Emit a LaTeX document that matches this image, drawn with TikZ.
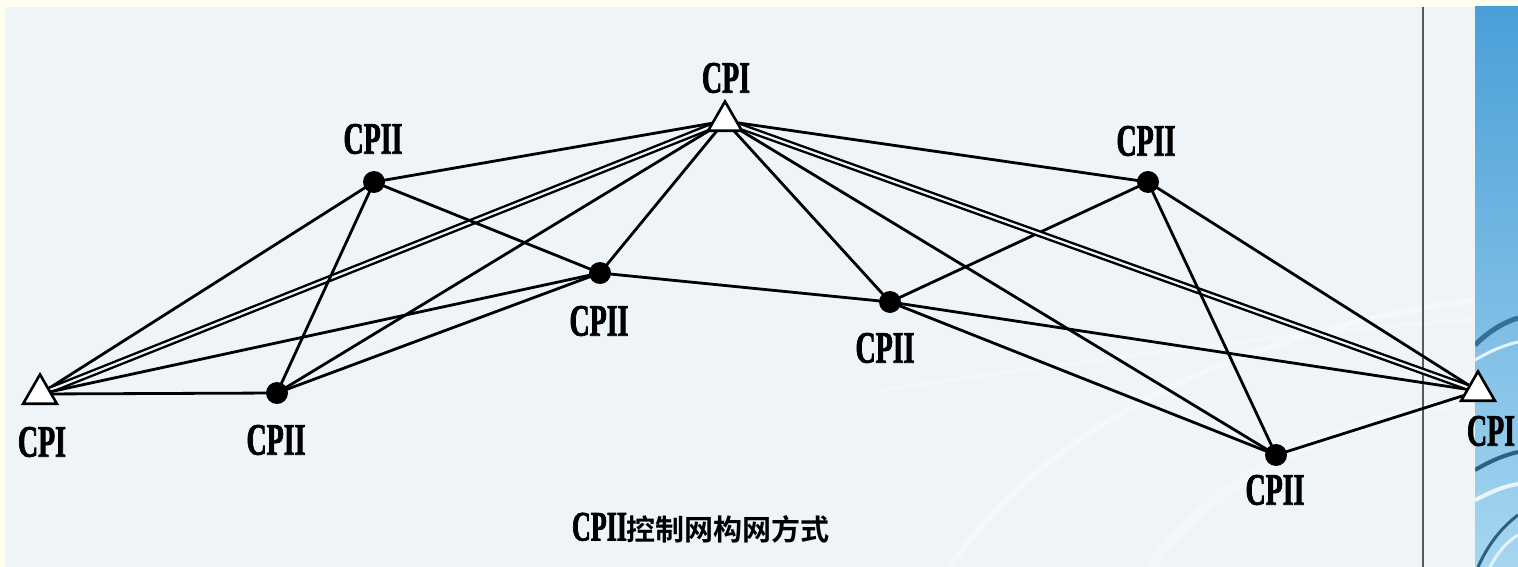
\documentclass[tikz,border=0pt]{standalone}
\usepackage{fontspec}
\usetikzlibrary{shapes.geometric}
\newfontfamily\labfont[FakeStretch=0.62,FakeBold=1.6]{Liberation Serif}
\newfontfamily\cjk[BoldFont={Noto Sans CJK SC Bold}]{Noto Sans CJK SC}
\definecolor{panel}{HTML}{EEF4F8}
\definecolor{cream}{HTML}{FFFFF0}
\definecolor{blueA}{HTML}{4A9FD8}
\definecolor{blueB}{HTML}{A6D6F0}
\pgfdeclarelayer{back}
\pgfdeclarelayer{edges}
\pgfsetlayers{back,edges,main}
\begin{document}
\begin{tikzpicture}[x=1pt,y=-1pt,
  link/.style={line width=2.8pt, draw=black},
  dbl/.style={line width=2.4pt, draw=black, double=panel, double distance=2.2pt},
  cptwo/.style={circle, fill=black, inner sep=0pt, minimum size=22pt},
  cpone/.style={regular polygon, regular polygon sides=3, draw=black, line width=2.6pt, fill=white, inner sep=0pt, minimum size=39pt},
  lab/.style={font=\labfont\bfseries\fontsize{45}{45}\selectfont, inner sep=0pt},
  captext/.style={inner sep=0pt}]
\useasboundingbox (0,0) rectangle (1518,567);
\begin{pgfonlayer}{back}
  \fill[cream] (0,0) rectangle (1518,567);
  \fill[panel] (5,7) rectangle (1518,567);
  % faint background swirls
  \draw[white, opacity=0.45, line width=6pt] (950,567) .. controls (1050,420) and (1250,330) .. (1475,300);
  \draw[white, opacity=0.35, line width=10pt] (1150,567) .. controls (1220,470) and (1340,420) .. (1475,400);
  \draw[white, opacity=0.35, line width=4pt] (880,390) .. controls (1100,360) and (1300,330) .. (1475,320);
  \shade[top color=blueA, bottom color=blueB] (1475,7) rectangle (1518,567);
  \begin{scope}
    \clip (1475,7) rectangle (1518,567);
    \draw[blueA!70!black, line width=5pt] (1475,345) .. controls (1490,330) and (1505,322) .. (1518,318);
    \draw[white, opacity=0.8, line width=3pt] (1475,360) .. controls (1492,350) and (1505,345) .. (1518,342);
    \draw[blueA!60!black, line width=4pt] (1475,470) .. controls (1492,460) and (1505,455) .. (1518,452);
    \draw[white, opacity=0.8, line width=4pt] (1475,500) .. controls (1495,490) and (1505,486) .. (1518,484);
    \draw[blueA!60!black, line width=3pt] (1478,567) .. controls (1490,540) and (1505,525) .. (1518,515);
    \draw[white, opacity=0.7, line width=3pt] (1490,567) .. controls (1500,548) and (1510,540) .. (1518,535);
  \end{scope}
  \draw[gray!70!black, line width=1.4pt] (1423,7) -- (1423,567);
\end{pgfonlayer}

% stations
\node[cpone] (T) at (725,121) {};
\node[cpone] (L) at (40,394) {};
\node[cpone] (R) at (1478,391) {};
\node[cptwo] (A) at (374,182) {};
\node[cptwo] (B) at (600,273) {};
\node[cptwo] (C) at (277,393) {};
\node[cptwo] (D) at (890,302) {};
\node[cptwo] (E) at (1148,182) {};
\node[cptwo] (F) at (1276,455) {};

% labels
\node[lab] (lT) at (726,78) {CPI};
\node[lab] (lL) at (42,442) {CPI};
\node[lab] (lR) at (1491,431) {CPI};
\node[lab] (lA) at (373,139) {CPII};
\node[lab] (lB) at (599,321) {CPII};
\node[lab] (lC) at (276,440) {CPII};
\node[lab] (lD) at (885,348) {CPII};
\node[lab] (lE) at (1146,141) {CPII};
\node[lab] (lF) at (1275,490) {CPII};

% caption
\node[captext] (capt) at (701,528) {\labfont\bfseries\fontsize{42}{42}\selectfont CPII\cjk\bfseries\fontsize{29}{29}\selectfont 控制网构网方式};

\begin{pgfonlayer}{edges}
  \draw[link] (L.center) -- (C.center);
  \draw[link] (L.center) -- (A.center);
  \draw[dbl]  (L.center) -- (T.center);
  \draw[link] (L.center) -- (B.center);
  \draw[link] (C.center) -- (A.center);
  \draw[link] (C.center) -- (T.center);
  \draw[link] (C.center) -- (B.center);
  \draw[link] (A.center) -- (T.center);
  \draw[link] (A.center) -- (B.center);
  \draw[link] (B.center) -- (T.center);
  \draw[link] (B.center) -- (D.center);
  \draw[link] (D.center) -- (T.center);
  \draw[link] (D.center) -- (E.center);
  \draw[link] (D.center) -- (R.center);
  \draw[link] (D.center) -- (F.center);
  \draw[link] (T.center) -- (F.center);
  \draw[dbl]  (T.center) -- (R.center);
  \draw[link] (T.center) -- (E.center);
  \draw[link] (E.center) -- (F.center);
  \draw[link] (E.center) -- (R.center);
  \draw[link] (F.center) -- (R.center);
\end{pgfonlayer}
\end{tikzpicture}
\end{document}
